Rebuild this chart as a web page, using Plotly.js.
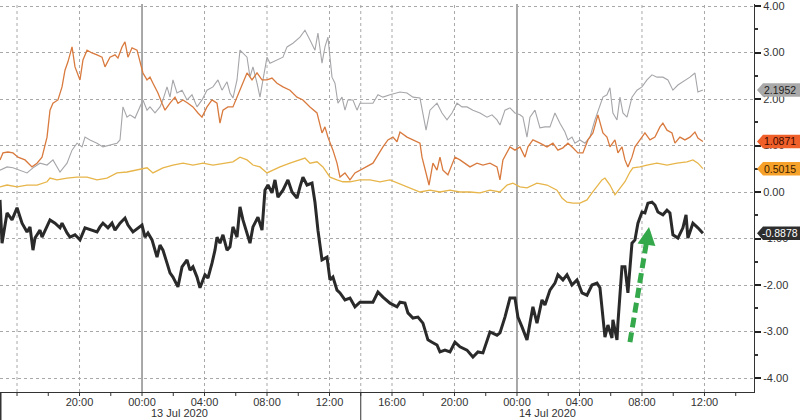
<!DOCTYPE html>
<html>
<head>
<meta charset="utf-8">
<script src="https://cdn.plot.ly/plotly-3.0.1.min.js"></script>
<style>html,body{margin:0;padding:0;background:#fff}#chart{width:800px;height:420px}</style>
</head>
<body>
<div id="chart"></div>
<script>
// Hours relative to 13 Jul 2020 00:00
const baseDay = Date.UTC(2020, 6, 13);

const blackHours = [-9.09,-8.96,-8.64,-8.32,-8.00,-7.68,-7.36,-7.17,-6.98,-6.85,-6.53,-6.40,-5.89,-5.57,-5.25,-5.12,-4.80,-4.61,-4.29,-3.97,-3.65,-3.20,-2.88,-2.69,-2.50,-2.18,-1.92,-1.73,-1.41,-1.09,-0.90,-0.58,-0.26,0,0.19,0.38,0.64,0.96,1.15,1.34,1.60,1.79,1.98,2.30,2.56,2.88,3.07,3.26,3.52,3.71,4.03,4.22,4.48,4.67,4.80,4.99,5.18,5.44,5.63,5.82,6.08,6.27,6.46,6.72,6.91,7.10,7.42,7.68,7.87,8.06,8.32,8.51,8.70,9.02,9.34,9.60,9.92,10.11,10.30,10.56,10.88,11.07,11.26,11.52,11.84,12.03,12.22,12.48,12.67,12.99,13.31,13.63,13.95,14.78,15.10,15.42,15.87,16.32,16.51,16.83,17.02,17.34,17.66,17.98,18.30,18.56,18.88,19.07,19.39,19.71,20.03,20.35,20.80,21.18,21.50,21.82,22.08,22.27,22.72,22.91,23.23,23.55,23.87,24.06,24.32,24.64,24.83,25.02,25.28,25.60,25.79,26.11,26.43,26.62,26.94,27.20,27.52,27.84,28.16,28.48,28.80,29.12,29.31,29.50,29.63,29.82,30.08,30.14,30.40,30.46,30.72,30.91,31.10,31.36,31.55,31.74,32.00,32.19,32.38,32.64,32.83,33.02,33.34,33.60,33.79,33.98,34.30,34.62,34.82,34.94,35.26,35.58,35.90];
const blackValues = [-0.17,-1.10,-0.45,-0.60,-0.34,-0.67,-0.86,-0.75,-1.25,-0.99,-0.82,-0.97,-0.60,-0.67,-0.77,-0.67,-0.88,-0.97,-0.92,-1.03,-0.77,-0.82,-0.86,-0.75,-0.67,-0.77,-0.67,-0.82,-0.67,-0.56,-0.71,-0.86,-0.77,-0.71,-0.97,-0.88,-1.03,-1.40,-1.14,-1.25,-1.53,-1.74,-1.83,-2.04,-1.61,-1.46,-1.68,-1.61,-1.83,-2.06,-1.78,-1.85,-1.53,-1.25,-0.97,-1.10,-0.92,-1.25,-1.18,-0.75,-0.97,-0.32,-0.60,-0.88,-1.10,-0.75,-0.54,-0.82,0.04,0.15,-0.02,0.26,-0.11,0.04,0.26,0.00,-0.13,0.11,0.32,0.15,0.19,-0.22,-0.82,-1.46,-1.40,-1.89,-1.83,-2.11,-2.17,-2.32,-2.28,-2.47,-2.37,-2.37,-2.15,-2.26,-2.39,-2.47,-2.37,-2.39,-2.60,-2.71,-2.69,-2.82,-3.18,-3.23,-3.29,-3.44,-3.40,-3.44,-3.23,-3.33,-3.40,-3.55,-3.44,-3.46,-3.18,-3.01,-3.08,-3.03,-2.69,-2.28,-2.28,-2.69,-2.90,-3.18,-2.82,-2.47,-2.82,-2.32,-2.43,-2.11,-1.96,-1.78,-1.89,-1.78,-2.00,-1.89,-2.17,-2.22,-2.00,-1.96,-2.06,-2.69,-3.12,-2.86,-3.14,-2.75,-3.18,-2.82,-1.61,-1.61,-2.17,-1.10,-1.03,-0.67,-0.43,-0.45,-0.24,-0.22,-0.28,-0.43,-0.49,-0.39,-0.45,-0.92,-0.99,-0.77,-0.49,-0.99,-0.67,-0.77,-0.8878];

const grayHours = [-9.09,-8.64,-8.26,-7.81,-7.36,-6.98,-6.53,-6.08,-5.70,-5.25,-4.80,-4.48,-4.16,-3.84,-3.65,-3.33,-2.88,-2.50,-2.05,-1.60,-1.41,-1.22,-0.96,-0.77,-0.45,-0.13,0.06,0.32,0.51,0.83,1.15,1.34,1.60,1.79,1.98,2.24,2.56,2.88,3.20,3.52,3.84,4.16,4.54,4.86,5.12,5.44,5.63,5.82,6.08,6.27,6.46,6.72,6.91,7.10,7.36,7.55,7.74,8.00,8.19,8.64,9.02,9.28,9.66,10.11,10.43,10.75,11.07,11.26,11.52,11.71,11.90,12.16,12.35,12.54,12.80,12.99,13.18,13.50,13.76,13.95,14.78,15.10,15.42,15.87,16.32,16.51,16.96,17.34,17.79,17.98,18.18,18.43,18.62,18.88,19.20,19.52,19.84,20.16,20.48,20.80,21.18,21.63,22.08,22.40,22.72,22.91,23.23,23.55,23.87,24.19,24.38,24.64,24.83,25.15,25.47,25.79,26.11,26.43,26.75,27.07,27.26,27.52,27.71,28.03,28.35,28.67,28.99,29.31,29.50,29.76,29.95,30.14,30.40,30.59,30.78,31.04,31.36,31.68,32.00,32.32,32.64,32.96,33.34,33.66,33.98,34.30,34.62,35.07,35.39,35.58,35.90];
const grayValues = [0.47,0.54,0.52,0.47,0.41,0.52,0.62,0.58,0.69,0.43,0.62,0.90,1.05,0.97,1.18,1.12,1.05,0.97,1.01,1.05,1.12,1.83,1.61,1.66,1.59,1.83,1.98,1.76,1.83,1.70,1.83,1.98,2.26,2.04,2.41,2.13,2.19,1.98,2.09,1.83,1.98,2.19,2.26,2.41,2.19,2.37,2.13,2.02,2.41,3.05,2.99,2.90,2.47,2.69,2.34,2.04,2.41,2.90,2.77,2.84,2.90,3.12,3.20,3.33,3.48,3.27,3.05,3.42,2.77,3.12,3.33,2.47,2.34,1.91,2.04,1.76,1.98,1.98,1.76,1.91,1.91,2.09,2.04,2.09,2.13,2.15,2.13,2.04,2.02,1.70,1.33,1.76,1.83,1.91,1.70,1.55,1.70,1.91,1.83,1.83,1.76,1.70,1.61,1.66,1.55,1.44,1.76,1.81,1.70,1.66,1.61,1.18,1.61,1.76,1.38,1.40,1.40,1.70,1.48,1.29,1.12,1.18,1.05,1.12,1.05,1.18,1.55,1.83,2.04,2.09,2.24,1.70,1.55,2.04,1.70,1.61,2.04,2.19,2.26,2.41,2.52,2.47,2.47,2.41,2.19,2.30,2.37,2.47,2.56,2.15,2.1952];

const orangeHours = [-9.09,-8.90,-8.58,-8.26,-7.94,-7.49,-7.04,-6.72,-6.40,-6.08,-5.89,-5.70,-5.38,-5.12,-4.93,-4.74,-4.48,-4.29,-3.97,-3.78,-3.52,-3.20,-2.88,-2.56,-2.37,-2.05,-1.73,-1.54,-1.28,-1.09,-0.90,-0.64,-0.32,-0.13,0.06,0.32,0.51,0.70,1.02,1.28,1.47,1.79,2.11,2.30,2.62,2.94,3.26,3.58,3.84,4.16,4.48,4.80,4.99,5.18,5.50,5.82,6.08,6.40,6.72,7.04,7.36,7.68,8.00,8.32,8.64,9.02,9.47,9.92,10.30,10.75,11.20,11.52,11.71,11.90,12.22,12.48,12.67,12.99,13.31,13.63,13.95,14.78,15.42,15.74,16.06,16.32,16.51,16.96,17.34,17.79,17.92,18.11,18.37,18.62,18.88,19.07,19.26,19.58,20.03,20.35,20.99,21.44,21.82,22.27,22.72,22.91,23.10,23.55,23.87,24.19,24.51,24.70,25.02,25.47,25.92,26.30,26.62,26.94,27.26,27.58,27.90,28.22,28.54,28.86,29.18,29.50,29.76,29.95,30.27,30.46,30.72,30.91,31.10,31.36,31.55,31.87,32.19,32.51,32.83,33.15,33.34,33.60,33.92,34.11,34.43,34.75,35.07,35.39,35.58,35.90];
const orangeValues = [0.69,0.84,0.86,0.84,0.75,0.69,0.54,0.62,0.75,1.18,1.76,1.91,1.98,2.26,2.62,2.80,3.12,2.69,2.41,2.84,3.05,2.99,2.95,2.90,2.69,2.90,2.95,2.88,3.12,3.23,2.90,3.10,3.05,2.77,2.56,2.41,2.47,2.34,2.13,1.91,1.76,1.91,2.04,1.91,1.98,1.91,1.83,1.70,1.61,1.83,1.98,1.91,1.48,1.76,1.83,1.83,2.04,2.26,2.56,2.41,2.56,2.41,2.41,2.45,2.34,2.26,2.19,2.04,1.98,1.83,1.70,1.27,1.40,1.18,0.90,0.62,0.32,0.41,0.26,0.41,0.47,0.62,0.97,1.12,1.18,1.08,1.29,1.18,1.12,1.05,0.75,0.47,0.15,0.62,0.47,0.75,0.47,0.37,0.75,0.69,0.54,0.62,0.58,0.62,0.54,0.26,0.69,0.97,0.90,0.97,0.75,0.97,1.12,1.05,0.97,1.05,0.90,0.95,1.05,0.95,0.84,0.84,1.12,1.27,1.66,1.27,1.18,0.97,1.12,0.84,0.97,0.69,0.54,0.75,0.97,1.12,1.27,1.12,1.18,1.40,1.48,1.33,1.27,1.05,1.18,1.12,1.18,1.29,1.16,1.0871];

const yellowHours = [-9.09,-8.64,-8.00,-7.36,-6.72,-6.08,-5.89,-5.44,-4.80,-4.16,-3.52,-2.88,-2.24,-1.60,-0.96,-0.32,0.32,0.70,1.34,1.98,2.62,3.26,3.90,4.54,5.18,5.82,6.27,6.72,7.10,7.55,8.00,8.38,8.83,9.47,10.11,10.43,10.75,11.20,11.58,12.03,12.48,12.86,13.31,13.95,14.59,15.23,15.87,16.38,17.15,17.79,18.43,19.07,19.71,20.35,20.99,21.63,22.27,22.91,23.36,23.74,24.19,24.64,25.28,25.92,26.56,26.88,27.20,27.58,28.03,28.48,28.80,29.12,29.44,29.63,29.95,30.27,30.59,30.91,31.23,31.42,31.87,32.32,32.96,33.60,34.24,34.88,35.26,35.58,35.90];
const yellowValues = [0.11,0.15,0.11,0.15,0.15,0.22,0.30,0.26,0.30,0.32,0.32,0.26,0.30,0.41,0.43,0.47,0.52,0.41,0.52,0.58,0.62,0.58,0.62,0.58,0.62,0.65,0.75,0.69,0.58,0.54,0.41,0.47,0.54,0.62,0.69,0.73,0.62,0.65,0.54,0.32,0.26,0.22,0.22,0.26,0.26,0.22,0.26,0.19,0.09,0.00,0.04,0.00,0.04,0.00,0.00,-0.02,0.04,0.00,0.15,0.19,0.11,0.09,0.19,0.15,0.04,-0.13,-0.22,-0.24,-0.24,-0.17,-0.02,0.11,0.26,0.30,0.15,-0.06,0.09,0.22,0.43,0.52,0.54,0.58,0.62,0.58,0.62,0.65,0.69,0.62,0.5015];

const yTickVals = [-4, -3, -2, -1, 0, 1, 2, 3, 4];
const xTickHours = [-4, 0, 4, 8, 12, 16, 20, 24, 28, 32, 36];
const xMarkHours = [-8,-6,-4,-2,0,2,4,6,8,10,12,14,16,18,20,22,24,26,28,30,32,34,36,38];
const gridHours = [-8, -4, 4, 8, 12, 14, 16, 20, 28, 32, 36];
const dayBreakHours = [0, 24];
const dateLabels = ["13 Jul 2020", "14 Jul 2020"];
const dateLabelHours = [2.43, 25.98];
const arrowTail = {h: 31.23, v: -3.23};
const arrowHead = {h: 32.45, v: -0.75};

function pad(n){return (n<10?'0':'')+n;}
function toTime(h){
  const d = new Date(baseDay + Math.round(h*3600e3));
  return d.getUTCFullYear()+'-'+pad(d.getUTCMonth()+1)+'-'+pad(d.getUTCDate())+' '+pad(d.getUTCHours())+':'+pad(d.getUTCMinutes())+':'+pad(d.getUTCSeconds());
}
function fmtHM(h){const d=new Date(baseDay+h*3600e3);return pad(d.getUTCHours())+':'+pad(d.getUTCMinutes());}

const series = [
  {h: yellowHours, v: yellowValues, color: '#e7b54a', width: 1.3, badge: '#f6a12a', text: '#3a2000'},
  {h: grayHours, v: grayValues, color: '#a6a6aa', width: 1.1, badge: '#a9a9a9', text: '#1e1e1e'},
  {h: orangeHours, v: orangeValues, color: '#d97a3e', width: 1.3, badge: '#f0602a', text: '#3a0a00'},
  {h: blackHours, v: blackValues, color: '#2a2a2a', width: 3, badge: '#2e2e2e', text: '#ffffff'}
];

const traces = series.map(s => ({
  type: 'scatter', mode: 'lines',
  x: s.h.map(toTime), y: s.v,
  line: {color: s.color, width: s.width, shape: 'linear'},
  hoverinfo: 'skip'
}));

const plotH = 388;
const shapes = [];
const annotations = [];
gridHours.forEach(h => shapes.push({type:'line', xref:'x', yref:'paper', x0:toTime(h), x1:toTime(h), y0:0, y1:1, layer:'below', line:{color:'#a8a8a8', width:1, dash:'dot'}}));
dayBreakHours.forEach(h => shapes.push({type:'line', xref:'x', yref:'paper', x0:toTime(h), x1:toTime(h), y0:0, y1:1, layer:'below', line:{color:'#8c8c8c', width:1.5}}));
// x tick marks every 2 hours, below the axis line
xMarkHours.forEach(h => shapes.push({type:'line', xref:'x', yref:'paper', x0:toTime(h), x1:toTime(h), y0:0, y1:-4/plotH, line:{color:'#333', width:1}}));
// separators below the axis
shapes.push({type:'line', xref:'paper', yref:'paper', x0:0.001, x1:0.001, y0:0, y1:-0.08, line:{color:'#333', width:1.5}});
shapes.push({type:'line', xref:'x', yref:'paper', x0:toTime(14), x1:toTime(14), y0:0, y1:-0.08, line:{color:'#333', width:1}});

// value badges
const pxW = 754;
series.forEach(s => {
  const last = s.v[s.v.length-1];
  const hh = 0.145;
  const xt = 1 + 3/pxW, xb = 1 + 9/pxW, xe = 1 + 46/pxW;
  shapes.push({type:'path', xref:'paper', yref:'y', layer:'above',
    path:`M ${xt},${last} L ${xb},${last+hh} L ${xe},${last+hh} L ${xe},${last-hh} L ${xb},${last-hh} Z`,
    fillcolor: s.badge, line:{width:0}});
  annotations.push({xref:'paper', yref:'y', x: 1 + 26/pxW, y: last, text: last.toFixed(4), showarrow:false,
    xanchor:'center', yanchor:'middle', font:{family:'Liberation Sans, Arial, sans-serif', size:10.5, color:s.text}});
});

// green dashed arrow
shapes.push({type:'line', xref:'x', yref:'y', layer:'above', x0:toTime(arrowTail.h), y0:arrowTail.v,
  x1:toTime(arrowTail.h + (arrowHead.h-arrowTail.h)*0.9), y1:arrowTail.v + (arrowHead.v-arrowTail.v)*0.9,
  line:{color:'#34a84a', width:5, dash:'10px,5px'}});
annotations.push({xref:'x', yref:'y', x:toTime(arrowHead.h), y:arrowHead.v, ax:-2, ay:14, showarrow:true, text:'',
  arrowhead:2, arrowsize:0.9, arrowwidth:4, arrowcolor:'#34a84a'});

dateLabels.forEach((t,i) => annotations.push({xref:'x', yref:'paper', x:toTime(dateLabelHours[i]), y:-0.054, text:t, showarrow:false,
  xanchor:'center', yanchor:'middle', font:{family:'Liberation Sans, Arial, sans-serif', size:11, color:'#333'}}));

const layout = {
  width: 800, height: 420,
  margin: {l:0, r:46, t:4, b:28, pad:0},
  paper_bgcolor: '#ffffff', plot_bgcolor: '#ffffff',
  showlegend: false,
  font: {family:'Liberation Sans, Arial, sans-serif', size:11, color:'#333'},
  xaxis: {
    type:'date', range:[toTime(-9.09), toTime(39.17)],
    tickvals: xTickHours.map(toTime), ticktext: xTickHours.map(fmtHM),
    showgrid: false,
    showline:true, linecolor:'#333', linewidth:1,
    ticks:'',
    tickfont:{size:11, color:'#333'}, zeroline:false, fixedrange:true
  },
  yaxis: {
    side:'right', range:[-4.301, 4.043],
    tickvals: yTickVals, ticktext: yTickVals.map(v => v.toFixed(2)),
    ticklabeloverflow:'allow',
    showgrid:true, gridcolor:'#a8a8a8', griddash:'dot', gridwidth:1,
    showline:true, linecolor:'#333', linewidth:1,
    ticks:'outside', ticklen:6, tickwidth:2, tickcolor:'#222',
    minor:{dtick:0.5, ticks:'outside', ticklen:3, tickcolor:'#333', showgrid:false},
    tickfont:{size:11, color:'#333'}, zeroline:false, fixedrange:true
  },
  shapes: shapes,
  annotations: annotations
};

Plotly.newPlot('chart', traces, layout, {staticPlot:true, displayModeBar:false});
</script>
</body>
</html>
